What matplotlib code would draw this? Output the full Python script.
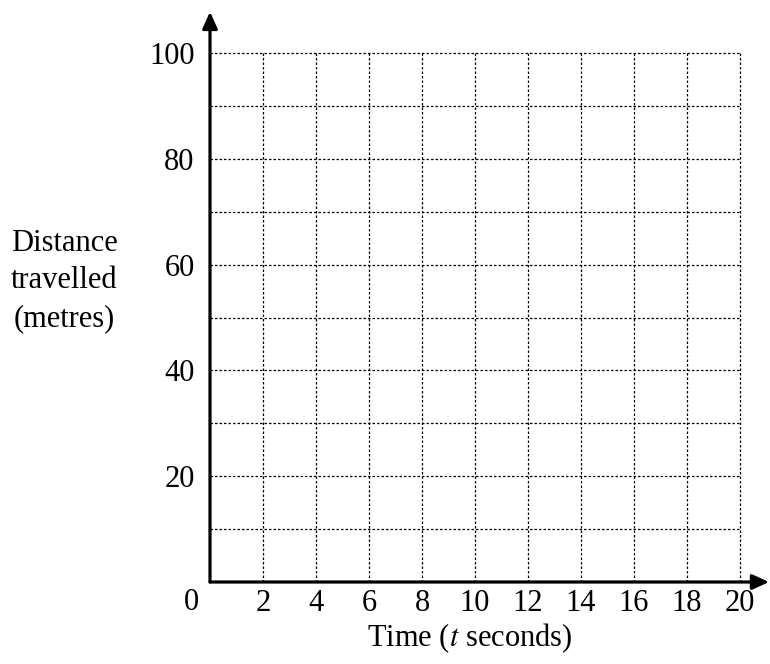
import matplotlib
matplotlib.use('Agg')
import matplotlib.pyplot as plt

plt.rcParams['font.family'] = ['Liberation Serif', 'DejaVu Serif']
plt.rcParams['mathtext.fontset'] = 'stix'

# grid and tick values
x_grid = [2, 4, 6, 8, 10, 12, 14, 16, 18, 20]
y_grid = [10, 20, 30, 40, 50, 60, 70, 80, 90, 100]
x_ticks = [2, 4, 6, 8, 10, 12, 14, 16, 18, 20]
y_ticks = [20, 40, 60, 80, 100]

W, H = 770, 664
fig = plt.figure(figsize=(W / 100, H / 100), dpi=100)
# origin at (210, 582) px, x=20 at 740 px, y=100 at 53 px
ax = fig.add_axes([210 / W, (H - 582) / H, 530 / W, 529 / H])
ax.set_xlim(0, 20)
ax.set_ylim(0, 100)

for xv in x_grid:
    ax.plot([xv, xv], [0, 100], color='black', lw=0.9, ls=(0, (2, 1.6)), clip_on=False)
for yv in y_grid:
    ax.plot([0, 20], [yv, yv], color='black', lw=0.9, ls=(0, (2, 1.6)), clip_on=False)

for s in ax.spines.values():
    s.set_visible(False)

# axes with arrow heads
head = '-|>,head_length=1.0,head_width=0.45'
ax.annotate('', xy=(21.1, 0), xytext=(0, 0), annotation_clip=False,
            arrowprops=dict(arrowstyle=head, color='black', lw=2.3,
                            shrinkA=0, shrinkB=0))
ax.annotate('', xy=(0, 107.8), xytext=(0, 0), annotation_clip=False,
            arrowprops=dict(arrowstyle=head, color='black', lw=2.3,
                            shrinkA=0, shrinkB=0))

fs = 22
ax.set_xticks(x_ticks)
ax.set_xticklabels([str(v) for v in x_ticks])
ax.set_yticks(y_ticks)
ax.set_yticklabels([str(v) for v in y_ticks])
ax.tick_params(length=0, labelsize=fs)
ax.tick_params(axis='x', pad=5)
ax.tick_params(axis='y', pad=11)

ax.text(-0.7, -3.8, '0', fontsize=fs, ha='center', va='center', clip_on=False)

fig.text(64 / W, 1 - 281 / H, 'Distance\ntravelled\n(metres)', fontsize=fs,
         ha='center', va='center', linespacing=1.4)
fig.text(470 / W, 1 - 638 / H, r'Time ($\it{t}$ seconds)', fontsize=fs,
         ha='center', va='center')

fig.savefig('out.png', dpi=100)
